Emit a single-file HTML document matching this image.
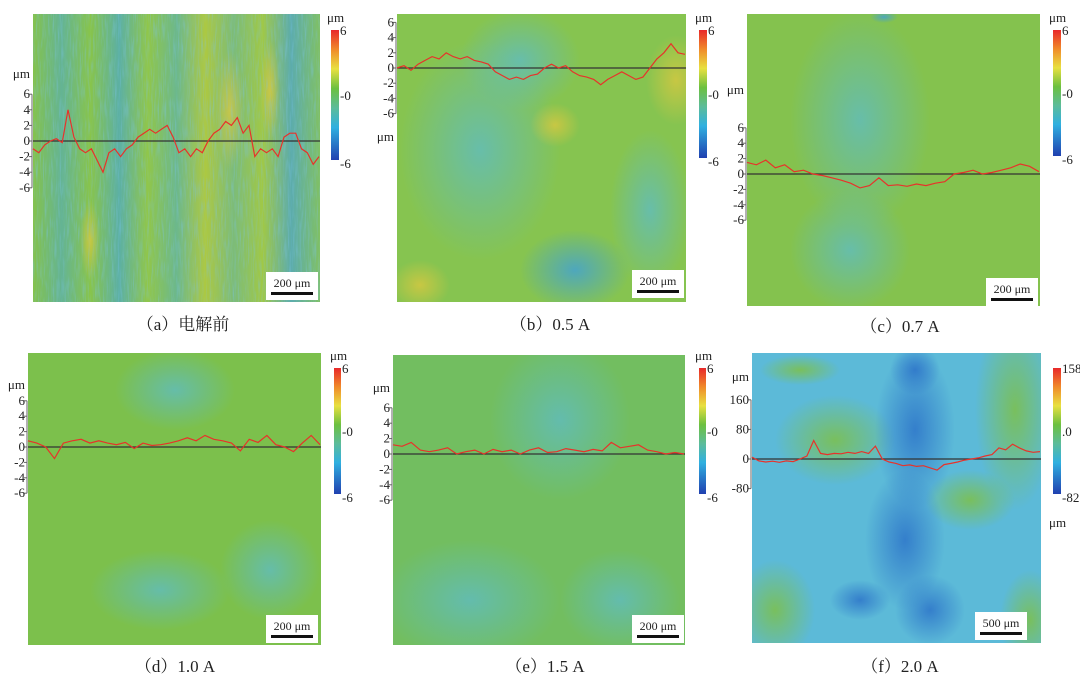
<!DOCTYPE html>
<html><head><meta charset="utf-8">
<style>
html,body{margin:0;padding:0;background:#fff;}
svg{display:block;}
text{font-family:"Liberation Serif","Noto Serif CJK SC",serif;fill:#222;}
</style></head>
<body>
<svg id="fig" width="1080" height="693" viewBox="0 0 1080 693" xmlns="http://www.w3.org/2000/svg">
<defs>
 <linearGradient id="cbar" x1="0" y1="0" x2="0" y2="1">
  <stop offset="0" stop-color="#e8282a"/><stop offset="0.15" stop-color="#f08a2a"/>
  <stop offset="0.3" stop-color="#e8e040"/><stop offset="0.45" stop-color="#6cc040"/>
  <stop offset="0.6" stop-color="#5cbc9a"/><stop offset="0.75" stop-color="#30b0e0"/>
  <stop offset="1" stop-color="#2040b0"/>
 </linearGradient>
 <linearGradient id="stripeA" x1="0" y1="0" x2="1" y2="0">
  <stop offset="0" stop-color="#84c24c"/><stop offset="0.1" stop-color="#64b494"/>
  <stop offset="0.2" stop-color="#88c44a"/><stop offset="0.3" stop-color="#5cb0a4"/>
  <stop offset="0.4" stop-color="#90c64a"/><stop offset="0.5" stop-color="#6cb88c"/>
  <stop offset="0.6" stop-color="#acc842"/><stop offset="0.7" stop-color="#7cbc78"/>
  <stop offset="0.8" stop-color="#a0c846"/><stop offset="0.9" stop-color="#5cacac"/>
  <stop offset="1" stop-color="#80c064"/>
 </linearGradient>
 <radialGradient id="blueSpot"><stop offset="0" stop-color="#40a0d8" stop-opacity="0.8"/><stop offset="1" stop-color="#40a0d8" stop-opacity="0"/></radialGradient>
 <radialGradient id="cyanSpot"><stop offset="0" stop-color="#60bcc0" stop-opacity="0.8"/><stop offset="1" stop-color="#60bcc0" stop-opacity="0"/></radialGradient>
 <radialGradient id="yelSpot"><stop offset="0" stop-color="#d8c840" stop-opacity="0.8"/><stop offset="1" stop-color="#d8c840" stop-opacity="0"/></radialGradient>
 <radialGradient id="dblSpot"><stop offset="0" stop-color="#2a70c8" stop-opacity="0.8"/><stop offset="1" stop-color="#2a70c8" stop-opacity="0"/></radialGradient>
 <radialGradient id="grnSpot"><stop offset="0" stop-color="#7cc050" stop-opacity="0.9"/><stop offset="1" stop-color="#7cc050" stop-opacity="0"/></radialGradient>
 <filter id="noise" x="0" y="0" width="100%" height="100%">
  <feTurbulence type="fractalNoise" baseFrequency="0.6 0.05" numOctaves="2" seed="3"/>
  <feColorMatrix type="matrix" values="0 0 0 0 0.2  0 0 0 0 0.55  0 0 0 0 0.8  0 0 0 1.0 -0.45"/>
 </filter>
</defs>
<g id="panels"></g>
</svg>
<script>
// profile data (μm or scale units), sampled left to right across each map
const profileA = [-1,-1.5,-0.5,0,0.3,-0.2,4,0.5,-1,-1.5,-1,-2.5,-4,-1.5,-1,-2,-1,-0.5,0.5,1,1.5,1,1.5,2,0.5,-1.5,-1,-2,-1,-1.5,0,1,1.5,2.5,2,3,1,2,-2,-1,-1.5,-1,-2,0.5,1,1,-1,-1.5,-3,-2];
const profileB = [0,0.3,-0.3,0.5,1,1.5,1.2,2,1.5,1.2,1.5,1,0.8,0.5,-0.5,-1,-1.5,-1.2,-1.5,-1,-0.8,0,0.5,0,0.3,-0.5,-1,-1.2,-1.5,-2.2,-1.5,-1,-0.5,-1,-1.5,-1.2,0,1.2,2,3.2,2,1.8];
const profileC = [1.5,1.2,1.8,0.8,1.2,0.3,0.5,0,-0.2,-0.5,-0.8,-1.2,-1.8,-1.5,-0.5,-1.5,-1.4,-1.6,-1.3,-1.5,-1.2,-1,0,0.2,0.5,0,0.2,0.5,0.8,1.3,1,0.3];
const profileD = [0.8,0.5,0,-1.5,0.5,0.8,1,0.5,0.8,0.5,0.3,0.6,-0.2,0.5,0.2,0.3,0.5,0.8,1.2,0.8,1.5,1,0.8,0.5,-0.5,1,0.6,1.5,0.3,0,-0.6,0.5,1.5,0.3];
const profileE = [1.2,1,1.5,0.5,0.3,0.5,0.8,0,0.3,0.5,0,0.6,0.3,0.5,0,0.5,0.8,0.2,0.3,0.7,0.5,0.3,0.6,0.4,1.5,0.8,1,1.2,0.5,0.3,0,0.2,0];
const profileF = [5,-5,-8,-6,-9,-5,-7,0,8,50,15,12,15,14,18,15,20,15,35,0,-8,-12,-18,-16,-20,-18,-24,-30,-15,-12,-8,-3,0,3,8,12,30,25,40,30,22,18,20];
const tickA = ["6","4","2","0","-2","-4","-6"];
const tickF = ["160","80","0","-80"];
const captions = ["（a）电解前","（b）0.5 A","（c）0.7 A","（d）1.0 A","（e）1.5 A","（f）2.0 A"];

const NS = "http://www.w3.org/2000/svg";
const root = document.getElementById("panels");
function mk(tag, attrs, parent){const e=document.createElementNS(NS,tag);for(const k in attrs)e.setAttribute(k,attrs[k]);(parent||root).appendChild(e);return e;}
function txt(x,y,s,size,anchor,parent){const t=mk("text",{x:x,y:y,"font-size":size,"text-anchor":anchor||"start"},parent);t.textContent=s;return t;}

const cfgs = [
 {id:"a",x:33,y:14,w:287,h:288,bg:"url(#stripeA)",noise:true,zero:141,ppu:7.8,axX:32,axLab:74,data:profileA,cb:[331,30,8,130],cbTop:"6",cbMid:"0",cbBot:"-6",cbUnitY:22,sb:[266,272],cap:[183,330],
  spots:[["yelSpot",230,110,14,60],["yelSpot",270,90,10,50],["yelSpot",90,240,10,40]]},
 {id:"b",x:397,y:14,w:289,h:288,bg:"#86c450",zero:68,ppu:7.6,axX:396,axLab:137,data:profileB,cb:[699,30,8,128],cbTop:"6",cbMid:"0",cbBot:"-6",cbUnitY:22,sb:[632,270],cap:[550,330],
  spots:[["cyanSpot",520,60,60,50],["cyanSpot",480,150,80,110],["yelSpot",555,125,25,22],["yelSpot",676,80,30,45],["blueSpot",575,270,55,40],["yelSpot",420,285,30,25],["cyanSpot",650,210,40,80]]},
 {id:"c",x:747,y:14,w:293,h:292,bg:"#84c24e",zero:174,ppu:7.7,axX:746,axLab:90,data:profileC,cb:[1053,30,8,126],cbTop:"6",cbMid:"0",cbBot:"-6",cbUnitY:22,sb:[986,278],cap:[900,332],
  spots:[["cyanSpot",860,120,70,110],["cyanSpot",850,250,60,60],["blueSpot",884,17,14,6]]},
 {id:"d",x:28,y:353,w:293,h:292,bg:"#7cc04c",zero:447,ppu:7.7,axX:27,axLab:385,data:profileD,cb:[334,368,7,126],cbTop:"6",cbMid:"0",cbBot:"-6",cbUnitY:360,sb:[266,615],cap:[175,672],
  spots:[["cyanSpot",175,390,60,40],["cyanSpot",270,570,50,50],["cyanSpot",160,590,70,40]]},
 {id:"e",x:393,y:355,w:292,h:290,bg:"#72be60",zero:454,ppu:7.7,axX:392,axLab:388,data:profileE,cb:[699,368,7,126],cbTop:"6",cbMid:"0",cbBot:"-6",cbUnitY:360,sb:[632,615],cap:[545,672],
  spots:[["cyanSpot",560,420,70,80],["cyanSpot",470,600,90,60],["cyanSpot",620,600,60,50]]},
 {id:"f",x:752,y:353,w:289,h:290,bg:"#5cbad8",zero:459,ppu:0.37,axX:751,axLab:377,data:profileF,cb:[1053,368,8,126],cbTop:"158",cbMid:"0",cbBot:"-82",cbUnitY:527,sb:[975,612],cap:[900,672],sbLabel:"500 μm",
  spots:[["grnSpot",835,440,60,45],["grnSpot",1015,410,40,100],["grnSpot",970,500,45,30],["grnSpot",775,610,40,50],["grnSpot",1030,620,30,50],["grnSpot",800,370,40,15],
         ["dblSpot",915,430,40,80],["dblSpot",905,540,40,70],["dblSpot",930,610,35,35],["dblSpot",860,600,30,20],["dblSpot",915,370,25,25]]}
];

cfgs.forEach((c,i)=>{
 const g = mk("g",{});
 
 
 const clipId="clip"+c.id;
 const cp=mk("clipPath",{id:clipId},g); mk("rect",{x:c.x,y:c.y,width:c.w,height:c.h},cp);
 const map = mk("g",{"clip-path":"url(#"+clipId+")"},g);
 
 
 mk("rect",{x:c.x,y:c.y,width:c.w,height:c.h,fill:c.bg},map);
 c.spots.forEach(s=>mk("ellipse",{cx:s[1],cy:s[2],rx:s[3],ry:s[4],fill:"url(#"+s[0]+")"},map));
 if(c.noise) mk("rect",{x:c.x,y:c.y,width:c.w,height:c.h,filter:"url(#noise)"},map);
 const zl=mk("line",{x1:c.x,y1:c.zero,x2:c.x+c.w,y2:c.zero,stroke:"#333","stroke-width":1.2},g);
 
 
 const n=c.data.length;
 const xs=k=>c.x+k*(c.w-1)/(n-1);
 const ys=v=>c.zero-v*c.ppu;
 const pts=c.data.map((v,k)=>xs(k).toFixed(1)+","+ys(v).toFixed(1)).join(" ");
 const pl=mk("polyline",{points:pts,fill:"none",stroke:"#e8322a","stroke-width":1.2},g);
 
 
 const ax=mk("g",{},g);
 
 
 const ticks = c.id==="f"?tickF:tickA;
 const tv = ticks.map(Number);
 mk("line",{x1:c.axX,y1:ys(tv[0]),x2:c.axX,y2:ys(tv[tv.length-1]),stroke:"#666","stroke-width":1},ax);
 ticks.forEach((t,k)=>{const y=ys(tv[k]);mk("line",{x1:c.axX-3,y1:y,x2:c.axX,y2:y,stroke:"#666"},ax);txt(c.axX-2,y+4,t,13,"end",ax);});
 txt(c.axX-2,c.axLab+4,"μm",13,"end",ax);
 const cb=mk("g",{},g);
 
 
 mk("rect",{x:c.cb[0],y:c.cb[1],width:c.cb[2],height:c.cb[3],fill:"url(#cbar)"},cb);
 const tx=c.cb[0]+c.cb[2]+1;
 txt(tx,c.cb[1]+5,c.cbTop,13,"start",cb);
 txt(tx,c.cb[1]+c.cb[3]/2+5,(c.id==="f"?".":"-")+c.cbMid,13,"start",cb);
 txt(tx,c.cb[1]+c.cb[3]+8,c.cbBot,13,"start",cb);
 txt(c.cb[0]-4,c.cbUnitY,"μm",13,"start",cb);
 const sb=mk("g",{},g);
 
 
 mk("rect",{x:c.sb[0],y:c.sb[1],width:52,height:28,fill:"#fff"},sb);
 txt(c.sb[0]+26,c.sb[1]+15,c.sbLabel||"200 μm",12,"middle",sb);
 mk("rect",{x:c.sb[0]+5,y:c.sb[1]+20,width:42,height:3,fill:"#111"},sb);
 const cap=txt(c.cap[0],c.cap[1],captions[i],17,"middle",g);
 
 
});
</script>
</body></html>
